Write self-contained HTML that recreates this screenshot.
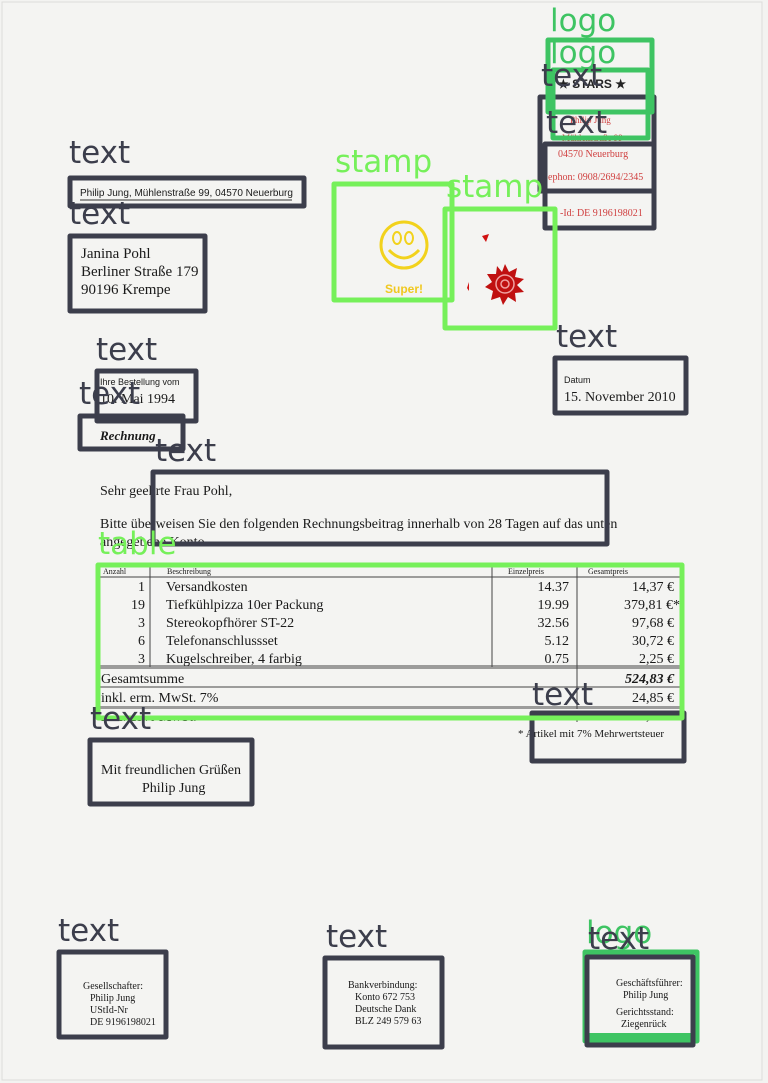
<!DOCTYPE html>
<html><head><meta charset="utf-8"><style>
html,body{margin:0;padding:0;background:#f2f2f0;}
svg{display:block;}
</style></head><body>
<svg width="768" height="1083" viewBox="0 0 768 1083" xmlns="http://www.w3.org/2000/svg">
<rect x="0" y="0" width="768" height="1083" fill="#f3f3f1"/>
<rect x="2" y="2" width="760" height="1078" fill="#f4f4f2" stroke="#dcdcda" stroke-width="1"/>
<g font-family="Liberation Serif, serif" fill="#1a1a1a">
 <text x="558" y="88" font-family="Liberation Sans, sans-serif" font-size="12" font-weight="bold" fill="#222">★ STARS ★</text>
 <text x="570" y="123" font-size="9" fill="#d04040">Philip Jung</text>
 <text x="562" y="141" font-size="9" fill="#d04040">Mühlenstraße 99</text>
 <text x="558" y="157" font-size="10" fill="#d04040">04570 Neuerburg</text>
 <text x="548" y="180" font-size="10" fill="#d04040">ephon:  0908/2694/2345</text>
 <text x="560" y="216" font-size="10" fill="#d04040">-Id: DE 9196198021</text>
 <text x="80" y="196" font-family="Liberation Sans, sans-serif" font-size="10">Philip Jung, Mühlenstraße 99, 04570 Neuerburg</text>
 <line x1="80" y1="200" x2="292" y2="200" stroke="#333" stroke-width="1"/>
 <text x="81" y="258" font-size="15">Janina Pohl</text>
 <text x="81" y="276" font-size="15">Berliner Straße 179</text>
 <text x="81" y="294" font-size="15">90196 Krempe</text>
 <text x="100" y="385" font-family="Liberation Sans, sans-serif" font-size="9">Ihre Bestellung vom</text>
 <text x="100" y="403" font-size="14">10. Mai 1994</text>
 <text x="100" y="440" font-size="13" font-style="italic" font-weight="bold">Rechnung</text>
 <text x="564" y="383" font-family="Liberation Sans, sans-serif" font-size="9">Datum</text>
 <text x="564" y="401" font-size="14">15. November 2010</text>
 <text x="100" y="495" font-size="14">Sehr geehrte Frau Pohl,</text>
 <text x="100" y="528" font-size="14">Bitte überweisen Sie den folgenden Rechnungsbeitrag innerhalb von 28 Tagen auf das unten</text>
 <text x="100" y="546" font-size="14">angegebene Konto.</text>
 <g stroke="#444" stroke-width="1">
  <line x1="100" y1="567" x2="680" y2="567"/>
  <line x1="100" y1="577" x2="680" y2="577"/>
  <line x1="150" y1="567" x2="150" y2="667"/>
  <line x1="492" y1="567" x2="492" y2="667"/>
  <line x1="577" y1="567" x2="577" y2="722"/>
  <line x1="100" y1="666" x2="680" y2="666"/>
  <line x1="100" y1="668" x2="680" y2="668"/>
  <line x1="100" y1="687" x2="680" y2="687"/>
  <line x1="100" y1="707" x2="680" y2="707"/>
  <line x1="100" y1="709" x2="680" y2="709"/>
 </g>
 <text x="103" y="574" font-size="8">Anzahl</text><text x="167" y="574" font-size="8">Beschreibung</text>
 <text x="508" y="574" font-size="8">Einzelpreis</text><text x="588" y="574" font-size="8">Gesamtpreis</text>
 <g font-size="14">
  <text x="145" y="591" text-anchor="end">1</text><text x="166" y="591">Versandkosten</text><text x="569" y="591" text-anchor="end">14.37</text><text x="674" y="591" text-anchor="end">14,37 €</text>
  <text x="145" y="609" text-anchor="end">19</text><text x="166" y="609">Tiefkühlpizza 10er Packung</text><text x="569" y="609" text-anchor="end">19.99</text><text x="680" y="609" text-anchor="end">379,81 €*</text>
  <text x="145" y="627" text-anchor="end">3</text><text x="166" y="627">Stereokopfhörer ST-22</text><text x="569" y="627" text-anchor="end">32.56</text><text x="674" y="627" text-anchor="end">97,68 €</text>
  <text x="145" y="645" text-anchor="end">6</text><text x="166" y="645">Telefonanschlussset</text><text x="569" y="645" text-anchor="end">5.12</text><text x="674" y="645" text-anchor="end">30,72 €</text>
  <text x="145" y="663" text-anchor="end">3</text><text x="166" y="663">Kugelschreiber, 4 farbig</text><text x="569" y="663" text-anchor="end">0.75</text><text x="674" y="663" text-anchor="end">2,25 €</text>
  <text x="101" y="683">Gesamtsumme</text><text x="674" y="683" text-anchor="end" font-style="italic" font-weight="bold">524,83 €</text>
  <text x="101" y="702">inkl. erm. MwSt. 7%</text><text x="674" y="702" text-anchor="end">24,85 €</text>
  <text x="101" y="721">inkl. 19% MwSt.</text><text x="674" y="720" text-anchor="end">23,15 €</text>
 </g>
 <rect x="96" y="709" width="590" height="11" fill="#f4f4f2"/>
 <text x="518" y="737" font-size="11">* Artikel mit 7% Mehrwertsteuer</text>
 <text x="101" y="774" font-size="14">Mit freundlichen Grüßen</text>
 <text x="142" y="792" font-size="14">Philip Jung</text>
 <g font-size="10">
  <text x="83" y="989">Gesellschafter:</text><text x="90" y="1001">Philip Jung</text><text x="90" y="1013">UStId-Nr</text><text x="90" y="1025">DE 9196198021</text>
  <text x="348" y="988">Bankverbindung:</text><text x="355" y="1000">Konto 672 753</text><text x="355" y="1012">Deutsche Dank</text><text x="355" y="1024">BLZ 249 579 63</text>
  <text x="616" y="986">Geschäftsführer:</text><text x="623" y="998">Philip Jung</text><text x="616" y="1015">Gerichtsstand:</text><text x="621" y="1027">Ziegenrück</text>
 </g>
</g>
<g>
 <circle cx="404" cy="245" r="23" fill="none" stroke="#f2d21c" stroke-width="3"/>
 <ellipse cx="397" cy="238" rx="4" ry="6" fill="none" stroke="#f2d21c" stroke-width="2"/>
 <ellipse cx="409" cy="238" rx="4" ry="6" fill="none" stroke="#f2d21c" stroke-width="2"/>
 <path d="M389 250 Q404 266 419 250" fill="none" stroke="#f2d21c" stroke-width="3"/>
 <text x="385" y="293" font-family="Liberation Sans, sans-serif" font-weight="bold" font-size="12" fill="#f0c820">Super!</text>
 <polygon points="505,264 509,272 517,268 515,277 524,279 517,285 524,292 515,293 516,302 508,297 503,305 500,297 491,300 493,291 485,287 492,282 487,274 496,274 497,266 502,272" fill="#c01010"/>
 <circle cx="505" cy="284" r="9" fill="none" stroke="#f0a0a0" stroke-width="1.5"/>
 <circle cx="505" cy="284" r="4" fill="none" stroke="#f0a0a0" stroke-width="1.5"/>
 <path d="M482 236 l7 -2 l-3 8 z" fill="#d01010"/>
 <path d="M467 288 l2 -6 l0 9 z" fill="#d01010"/>
</g>
<g fill="none" stroke-linejoin="round">
 <g stroke="#3c3e4c" stroke-width="5">
  <rect x="70" y="178" width="234" height="28"/>
  <rect x="70" y="236" width="135" height="75"/>
  <rect x="97" y="371" width="99" height="50"/>
  <rect x="80" y="416" width="103" height="33"/>
  <rect x="153" y="472" width="454" height="72"/>
  <rect x="90" y="740" width="162" height="64"/>
  <rect x="532" y="713" width="152" height="48"/>
  <rect x="555" y="358" width="131" height="55"/>
  <rect x="540" y="97" width="114" height="94"/>
  <rect x="545" y="144" width="109" height="84"/>
  <rect x="59" y="952" width="107" height="85"/>
  <rect x="325" y="958" width="117" height="89"/>
 </g>
 <g stroke="#76f05a" stroke-width="5">
  <rect x="334" y="184" width="118" height="116"/>
  <rect x="445" y="209" width="110" height="119"/>
  <rect x="98" y="565" width="584" height="153"/>
 </g>
 <g stroke="#3ec463" stroke-width="5">
  <rect x="548" y="40" width="104" height="72"/>
  <rect x="553" y="70" width="95" height="68"/>
  <rect x="585" y="952" width="112" height="89"/>
 </g>
 <rect x="587" y="1033" width="108" height="6" fill="#3ec463" stroke="none"/>
 <rect x="587" y="957" width="106" height="88" stroke="#3c3e4c" stroke-width="5"/>
</g>
<g font-family="DejaVu Sans, Liberation Sans, sans-serif" font-size="31">
 <g fill="#3ec463">
  <text x="550" y="31">logo</text>
  <text x="550" y="63">logo</text>
  <text x="586" y="943">logo</text>
 </g>
 <g fill="#76f05a">
  <text x="335" y="172">stamp</text>
  <text x="446" y="197">stamp</text>
  <text x="98" y="554">table</text>
 </g>
 <g fill="#3c3e4c">
  <text x="541" y="86">text</text>
  <text x="546" y="133">text</text>
  <text x="69" y="163">text</text>
  <text x="69" y="224">text</text>
  <text x="96" y="360">text</text>
  <text x="79" y="404">text</text>
  <text x="155" y="461">text</text>
  <text x="556" y="347">text</text>
  <text x="532" y="705">text</text>
  <text x="90" y="729">text</text>
  <text x="58" y="941">text</text>
  <text x="326" y="947">text</text>
  <text x="588" y="949">text</text>
 </g>
</g>
</svg>
</body></html>
